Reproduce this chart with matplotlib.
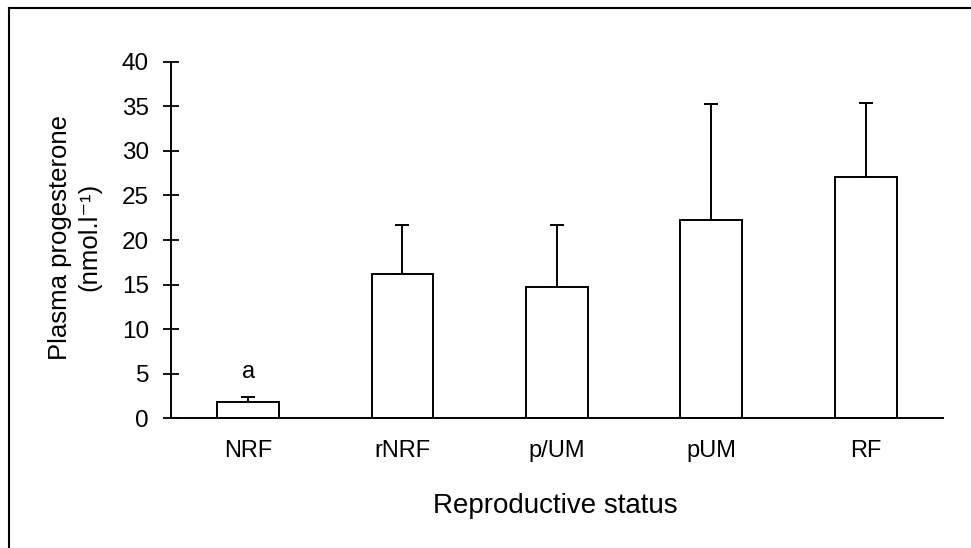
import matplotlib
matplotlib.use("Agg")
import matplotlib.pyplot as plt
from matplotlib.lines import Line2D

plt.rcParams['font.family'] = ['Liberation Sans', 'DejaVu Sans']

# data
categories = ["NRF", "rNRF", "p/UM", "pUM", "RF"]
means = [1.85, 16.2, 14.7, 22.3, 27.1]
sem_up = [0.55, 5.5, 7.0, 13.0, 8.3]
letters = ["a", "", "", "", ""]

fig = plt.figure(figsize=(9.71, 5.48), dpi=100)
ax = fig.add_axes([0.176, 0.237, 0.795, 0.650])

x = list(range(len(categories)))
ax.bar(x, means, width=0.4, color="white", edgecolor="black", linewidth=1.4, zorder=2)
ax.errorbar(x, means, yerr=[[0] * len(means), sem_up], fmt="none", ecolor="black",
            elinewidth=1.4, capsize=5.3, capthick=1.4, zorder=1)

for xi, m, s, lab in zip(x, means, sem_up, letters):
    if lab:
        ax.text(xi, m + s + 1.6, lab, ha="center", va="bottom", fontsize=17)

ax.set_xlim(-0.5, 4.5)
ax.set_ylim(0, 40)
ax.set_yticks(range(0, 41, 5))
ax.set_xticks(x)
ax.set_xticklabels(categories, fontsize=17)
ax.tick_params(axis="y", direction="inout", length=11.5, width=1.3, labelsize=17.5, pad=10)
ax.tick_params(axis="x", length=0, pad=16)
for side in ["top", "right"]:
    ax.spines[side].set_visible(False)
for side in ["left", "bottom"]:
    ax.spines[side].set_linewidth(1.4)

fig.text(0.572, 0.077, "Reproductive status", ha="center", va="center", fontsize=20)
fig.text(0.077, 0.567, "Plasma progesterone\n(nmol.l\u207b\u00b9)", rotation=90,
         ha="center", va="center", multialignment="center", fontsize=18.5, linespacing=1.3)

# figure frame (top and left edges visible in the reference)
fig.add_artist(Line2D([0.009, 1.0], [0.985, 0.985], transform=fig.transFigure, color="black", lw=1.5))
fig.add_artist(Line2D([0.009, 0.009], [0.0, 0.985], transform=fig.transFigure, color="black", lw=1.5))

fig.savefig("out.png", dpi=100)
